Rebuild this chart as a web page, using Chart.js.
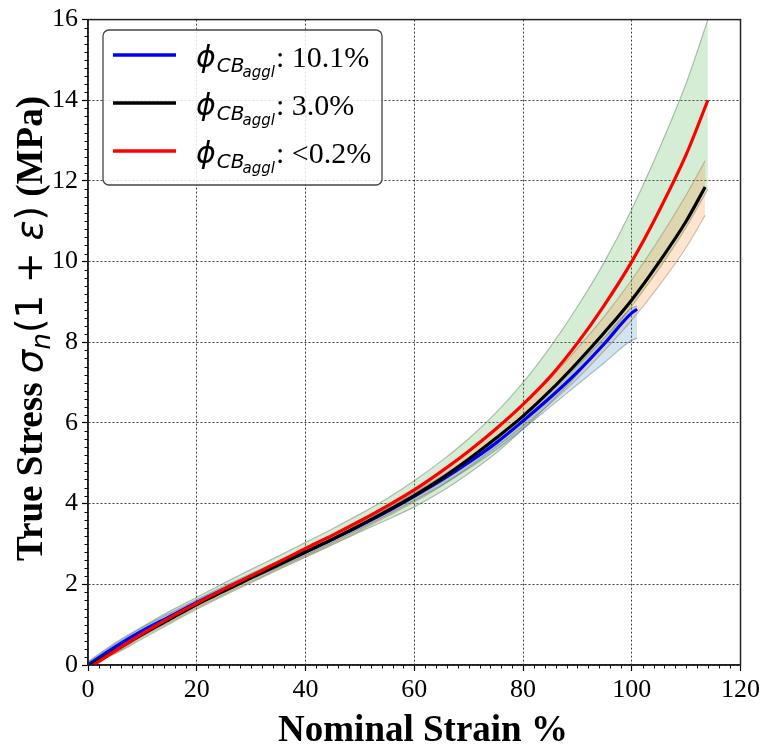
<!DOCTYPE html>
<html>
<head>
<meta charset="utf-8">
<script src="https://cdn.jsdelivr.net/npm/chart.js@4.4.1/dist/chart.umd.min.js"></script>
<style>
    body { margin: 0; background: #fff; }
    #wrap { width: 764px; height: 747px; position: relative; }
</style>
</head>
<body>
<div id="wrap"><canvas id="trueStressChart"></canvas></div>
<script>
// True stress vs nominal strain, three CB agglomeration levels

// mean curves
const strainBlue = [0, 5, 10, 15, 20, 25, 30, 35, 40, 45, 50, 55, 60, 65, 70, 75, 80, 85, 90, 95, 100, 101];
const stressBlue = [0, 0.45, 0.85, 1.2, 1.55, 1.88, 2.2, 2.5, 2.8, 3.12, 3.45, 3.8, 4.18, 4.58, 5.02, 5.5, 6.05, 6.63, 7.26, 7.97, 8.73, 8.82];

const strainBlack = [0.5, 5, 10, 15, 20, 25, 30, 35, 40, 45, 50, 55, 60, 65, 70, 75, 80, 85, 90, 95, 100, 105, 110, 113.5];
const stressBlack = [0, 0.36, 0.76, 1.13, 1.5, 1.83, 2.16, 2.48, 2.8, 3.12, 3.46, 3.82, 4.2, 4.62, 5.1, 5.62, 6.17, 6.8, 7.5, 8.25, 9.05, 9.98, 11.0, 11.85];

const strainRed = [1, 5, 10, 15, 20, 25, 30, 35, 40, 45, 50, 55, 60, 65, 70, 75, 80, 85, 90, 95, 100, 105, 110, 114];
const stressRed = [0, 0.35, 0.78, 1.17, 1.53, 1.88, 2.21, 2.55, 2.89, 3.22, 3.57, 3.94, 4.34, 4.8, 5.3, 5.85, 6.46, 7.15, 7.98, 8.93, 10.0, 11.25, 12.65, 14.0];

// scatter bands (upper / lower)
const bandStrainBlue = [0, 5, 10, 15, 20, 25, 30, 35, 40, 45, 50, 55, 60, 65, 70, 75, 80, 85, 90, 95, 100, 101];
const bandBlueUpper = [0.06, 0.52, 0.93, 1.28, 1.62, 1.95, 2.27, 2.58, 2.88, 3.2, 3.53, 3.88, 4.27, 4.68, 5.13, 5.62, 6.17, 6.78, 7.42, 8.12, 8.85, 8.9];
const bandBlueLower = [0, 0.4, 0.78, 1.12, 1.47, 1.8, 2.12, 2.42, 2.72, 3.04, 3.37, 3.72, 4.08, 4.45, 4.87, 5.33, 5.85, 6.4, 6.95, 7.5, 8.05, 8.1];

const bandStrainOrange = [0, 5, 10, 15, 20, 25, 30, 35, 40, 45, 50, 55, 60, 65, 70, 75, 80, 85, 90, 95, 100, 105, 110, 113.5];
const bandOrangeUpper = [0.05, 0.42, 0.82, 1.2, 1.57, 1.9, 2.24, 2.57, 2.9, 3.23, 3.58, 3.96, 4.36, 4.8, 5.3, 5.85, 6.45, 7.1, 7.85, 8.65, 9.55, 10.55, 11.65, 12.5];
const bandOrangeLower = [0, 0.3, 0.7, 1.06, 1.42, 1.75, 2.07, 2.38, 2.69, 3.0, 3.33, 3.68, 4.04, 4.44, 4.9, 5.4, 5.92, 6.48, 7.1, 7.8, 8.55, 9.4, 10.35, 11.15];

const bandStrainGreen = [0, 5, 10, 15, 20, 25, 30, 35, 40, 45, 50, 55, 60, 65, 70, 75, 80, 85, 90, 95, 100, 105, 110, 114];
const bandGreenUpper = [0.08, 0.55, 0.95, 1.33, 1.68, 2.03, 2.37, 2.7, 3.04, 3.38, 3.74, 4.13, 4.57, 5.06, 5.61, 6.25, 7.0, 7.88, 8.88, 10.0, 11.3, 12.78, 14.42, 16.0];
const bandGreenLower = [0, 0.28, 0.65, 1.02, 1.38, 1.72, 2.04, 2.36, 2.67, 2.98, 3.3, 3.6, 3.92, 4.3, 4.75, 5.25, 5.85, 6.5, 7.2, 8.0, 8.9, 9.82, 10.85, 11.8];

const legendValues = ["10.1%", "3.0%", "<0.2%"];
const legendColors = ["#0000ff", "#000000", "#ff0000"];

const xTickStep = 20, xMinorStep = 2;
const yTickStep = 2, yMinorStep = 0.2;

const serif = '"Liberation Serif", "Times New Roman", serif';
const mathFont = '"DejaVu Sans"';

const pts = (xs, ys) => xs.map((x, i) => ({ x: x, y: ys[i] }));

function curve(xs, ys, color, order) {
    return {
        data: pts(xs, ys),
        borderColor: color,
        borderWidth: 3.2,
        pointRadius: 0,
        cubicInterpolationMode: "monotone",
        fill: false,
        order: order
    };
}

function band(xs, ys, fillColor, edgeColor, order, target) {
    return {
        data: pts(xs, ys),
        borderColor: edgeColor,
        borderWidth: 1.2,
        backgroundColor: fillColor,
        pointRadius: 0,
        cubicInterpolationMode: "monotone",
        fill: target,
        order: order
    };
}

// frame, minor ticks, custom legend and mixed-font axis titles
const decorations = {
    id: "decorations",
    afterDraw(chart) {
        const ctx = chart.ctx;
        const a = chart.chartArea;
        const xs = chart.scales.x, ys = chart.scales.y;

        ctx.save();
        // minor ticks
        ctx.strokeStyle = "#000";
        ctx.lineWidth = 1;
        ctx.beginPath();
        for (let k = 1; k < 60; k++) {
            if (k % 10 === 0) continue;
            const px = Math.round(xs.getPixelForValue(k * xMinorStep)) + 0.5;
            ctx.moveTo(px, a.bottom);
            ctx.lineTo(px, a.bottom + 3.5);
        }
        for (let k = 1; k < 80; k++) {
            if (k % 10 === 0) continue;
            const py = Math.round(ys.getPixelForValue(k * yMinorStep)) + 0.5;
            ctx.moveTo(a.left, py);
            ctx.lineTo(a.left - 3.5, py);
        }
        ctx.stroke();

        // frame
        ctx.strokeStyle = "#222";
        ctx.lineWidth = 1.5;
        ctx.strokeRect(a.left, a.top, a.right - a.left, a.bottom - a.top);

        // legend
        const bx = 103, by = 30, bw = 279, bh = 155, r = 6;
        ctx.beginPath();
        ctx.moveTo(bx + r, by);
        ctx.arcTo(bx + bw, by, bx + bw, by + bh, r);
        ctx.arcTo(bx + bw, by + bh, bx, by + bh, r);
        ctx.arcTo(bx, by + bh, bx, by, r);
        ctx.arcTo(bx, by, bx + bw, by, r);
        ctx.closePath();
        ctx.fillStyle = "rgba(255,255,255,0.85)";
        ctx.fill();
        ctx.strokeStyle = "#444";
        ctx.lineWidth = 1.3;
        ctx.stroke();

        legendValues.forEach((val, i) => {
            const base = 67 + i * 48;
            ctx.strokeStyle = legendColors[i];
            ctx.lineWidth = 3.5;
            ctx.beginPath();
            ctx.moveTo(113, base - 12);
            ctx.lineTo(176, base - 12);
            ctx.stroke();

            ctx.fillStyle = "#000";
            ctx.textBaseline = "alphabetic";
            ctx.textAlign = "left";
            let x = 196;
            ctx.font = "italic 30px " + mathFont;
            ctx.fillText("\u03d5", x, base);
            x += ctx.measureText("\u03d5").width + 1;
            ctx.font = "italic 20px " + mathFont;
            ctx.fillText("CB", x, base + 5);
            x += ctx.measureText("CB").width - 2;
            ctx.font = "italic 15px " + mathFont;
            ctx.fillText("aggl", x, base + 10);
            x += ctx.measureText("aggl").width + 1;
            ctx.font = "30px " + serif;
            ctx.fillText(": " + val, x, base);
        });

        // x title
        ctx.font = "bold 37px " + serif;
        ctx.textAlign = "center";
        ctx.fillText("Nominal Strain %", 423, 741);

        // y title
        const pieces = [
            { t: "True Stress ", f: "bold 38px " + serif, dy: 0 },
            { t: "\u03c3", f: "italic 38px " + mathFont, dy: 0 },
            { t: "n", f: "italic 27px " + mathFont, dy: 8 },
            { t: "(1 + ", f: "38px " + mathFont, dy: 0 },
            { t: "\u03b5", f: "italic 38px " + mathFont, dy: 0 },
            { t: ")", f: "38px " + mathFont, dy: 0 },
            { t: " (MPa)", f: "bold 38px " + serif, dy: 0 }
        ];
        ctx.textAlign = "left";
        let total = 0;
        pieces.forEach(p => { ctx.font = p.f; total += ctx.measureText(p.t).width; });
        ctx.translate(42, 561);
        ctx.rotate(-Math.PI / 2);
        ctx.scale(465 / total, 1);
        let cx = 0;
        pieces.forEach(p => {
            ctx.font = p.f;
            ctx.fillText(p.t, cx, p.dy);
            cx += ctx.measureText(p.t).width;
        });
        ctx.restore();
    }
};

const ctx = document.getElementById("trueStressChart");

new Chart(ctx, {
    type: "line",
    data: {
        datasets: [
            curve(strainRed, stressRed, "#ff0000", 0),
            curve(strainBlack, stressBlack, "#000000", 1),
            curve(strainBlue, stressBlue, "#0000ff", 2),
            band(bandStrainBlue, bandBlueUpper, "rgba(31,119,180,0.2)", "rgba(80,110,140,0.45)", 10, "+1"),
            band(bandStrainBlue, bandBlueLower, "rgba(31,119,180,0.2)", "rgba(80,110,140,0.45)", 11, false),
            band(bandStrainOrange, bandOrangeUpper, "rgba(255,127,14,0.2)", "rgba(150,120,90,0.45)", 12, "+1"),
            band(bandStrainOrange, bandOrangeLower, "rgba(255,127,14,0.2)", "rgba(150,120,90,0.45)", 13, false),
            band(bandStrainGreen, bandGreenUpper, "rgba(44,160,44,0.2)", "rgba(90,120,90,0.45)", 14, "+1"),
            band(bandStrainGreen, bandGreenLower, "rgba(44,160,44,0.2)", "rgba(90,120,90,0.45)", 15, false)
        ]
    },
    options: {
        responsive: true,
        maintainAspectRatio: false,
        animation: false,
        layout: { padding: { top: 17, right: 22, left: 0, bottom: 0 } },
        plugins: {
            legend: { display: false },
            tooltip: { enabled: false }
        },
        scales: {
            x: {
                type: "linear",
                min: 0,
                max: 120,
                afterFit: s => { s.height = 82; },
                ticks: { stepSize: xTickStep, color: "#000", padding: 4, font: { family: serif, size: 26 } },
                grid: { color: "rgba(0,0,0,0.75)", lineWidth: 1, tickLength: 6, tickColor: "#000", tickWidth: 1.2 },
                border: { display: true, color: "#222", width: 1.5, dash: [2, 2] }
            },
            y: {
                min: 0,
                max: 16,
                afterFit: s => { s.width = 88; },
                ticks: { stepSize: yTickStep, color: "#000", padding: 4, font: { family: serif, size: 26 } },
                grid: { color: "rgba(0,0,0,0.75)", lineWidth: 1, tickLength: 6, tickColor: "#000", tickWidth: 1.2 },
                border: { display: true, color: "#222", width: 1.5, dash: [2, 2] }
            }
        }
    },
    plugins: [decorations]
});
</script>
</body>
</html>
